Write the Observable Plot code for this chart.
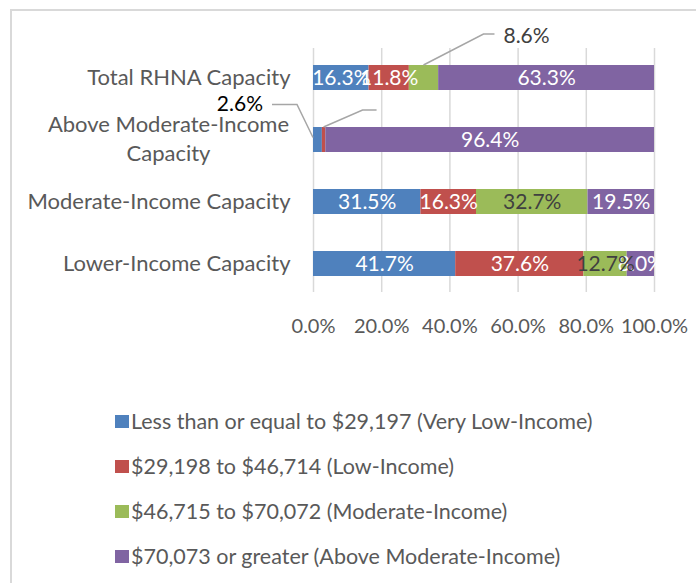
<!DOCTYPE html>
<html>
<head>
<meta charset="utf-8">
<script src="https://cdn.jsdelivr.net/npm/d3@7"></script>
<script src="https://cdn.jsdelivr.net/npm/@observablehq/plot@0.6"></script>
<style>
  html, body { margin: 0; padding: 0; background: white; }
  #wrap { position: relative; width: 696px; height: 583px; overflow: hidden; font-family: Lato, sans-serif; }
  #frame { position: absolute; left: 10px; top: 9px; width: 800px; height: 700px; border-left: 2px solid #d9d9d9; border-top: 2px solid #d9d9d9; }
  #chart { position: absolute; left: 0; top: 0; }
  .lg { position: absolute; left: 115px; display: flex; align-items: center; height: 24px; color: #595959; font-size: 21.5px; white-space: nowrap; }
  .lg .sw { width: 14px; height: 13px; margin-right: 2px; }
</style>
</head>
<body>
<div id="wrap">
  <div id="frame"></div>
  <div id="chart"></div>
  <div id="legend"></div>
</div>
<script>
const categories = ["Total RHNA Capacity", "Above Moderate-Income Capacity", "Moderate-Income Capacity", "Lower-Income Capacity"];
const series = [
  "Less than or equal to $29,197 (Very Low-Income)",
  "$29,198 to $46,714 (Low-Income)",
  "$46,715 to $70,072 (Moderate-Income)",
  "$70,073 or greater (Above Moderate-Income)"
];
const veryLow  = [16.3, 2.6, 31.5, 41.7];
const low      = [11.8, 1.0, 16.3, 37.6];
const moderate = [8.6, 0.0, 32.7, 12.7];
const aboveMod = [63.3, 96.4, 19.5, 8.0];
const xTicks = [0, 20, 40, 60, 80, 100];
const colors = ["#4f81bd", "#c0504d", "#9bbb59", "#8064a2"];

const seriesValues = [veryLow, low, moderate, aboveMod];
const rows = [];
categories.forEach((c, i) => {
  series.forEach((s, j) => rows.push({cat: c, series: s, si: j, value: seriesValues[j][i]}));
});

// labels drawn as callouts instead of inside the bar
const calloutKeys = new Set([categories[0] + "|2", categories[1] + "|0", categories[1] + "|1"]);
const inside = d => d.value > 0 && !calloutKeys.has(d.cat + "|" + d.si);
const fmt = v => v.toFixed(1) + "%";
const multiCat = categories[1];

const plot = Plot.plot({
  width: 696,
  height: 345,
  marginLeft: 313,
  marginRight: 42,
  marginTop: 48,
  marginBottom: 53,
  style: {fontFamily: "Lato, sans-serif", fontSize: "21px", color: "#595959", background: "transparent", overflow: "visible"},
  x: {domain: [0, 100]},
  y: {domain: categories, paddingInner: 0.597, paddingOuter: 0.266},
  color: {domain: series, range: colors},
  marks: [
    Plot.gridX(xTicks, {stroke: "#d9d9d9", strokeOpacity: 1, strokeWidth: 1.5}),
    Plot.barX(rows, Plot.stackX({x: "value", y: "cat", z: "series", fill: "series"})),
    Plot.text(rows, Plot.stackX({x: "value", y: "cat", z: "series",
      text: d => inside(d) && d.si !== 2 ? fmt(d.value) : "", fill: "white", fontSize: 21})),
    Plot.text(rows, Plot.stackX({x: "value", y: "cat", z: "series",
      text: d => inside(d) && d.si === 2 ? fmt(d.value) : "", fill: "#404040", fontSize: 21})),
    Plot.axisX(xTicks, {tickSize: 0, tickPadding: 26, tickFormat: d => d.toFixed(1) + "%", fontSize: 20, fill: "#595959", label: null}),
    Plot.axisY({tickSize: 0, tickPadding: 23, tickFormat: d => d === multiCat ? "" : d, fontSize: 22, fill: "#595959", label: null}),
    Plot.text([multiCat], {y: d => d, frameAnchor: "left", dx: -145, dy: -3, textAnchor: "middle",
      text: () => "Above Moderate-Income\nCapacity", lineHeight: 1.32, fill: "#595959", fontSize: 22})
  ]
});
document.getElementById("chart").appendChild(plot);

// Callout leader lines, anchored via the plot's scales
const xs = plot.scale("x"), ys = plot.scale("y");
const bw = ys.bandwidth;
const svg = d3.select(plot);
const g = svg.append("g").attr("fill", "none").attr("stroke", "#a6a6a6").attr("stroke-width", 1.5);

// 8.6% (Total RHNA, moderate)
{
  const start = veryLow[0] + low[0];
  const ax = xs.apply(start + moderate[0] / 2), ay = ys.apply(categories[0]);
  g.append("path").attr("d", `M${ax},${ay} L${ax + 60},${ay - 31} H${ax + 71}`);
  svg.append("text").attr("x", ax + 80).attr("y", ay - 29).attr("dy", "0.35em").attr("text-anchor", "start")
    .attr("fill", "#404040").attr("font-size", 21).attr("font-family", "Lato, sans-serif").text(fmt(moderate[0]));
}
// 2.6% (Above Moderate, very low)
{
  const ax = xs.apply(0), ay = ys.apply(categories[1]) + bw / 2 - 2;
  g.append("path").attr("d", `M${ax},${ay} L${ax - 16},${ay - 33} H${ax - 41}`);
  svg.append("text").attr("x", ax - 50).attr("y", ay - 34).attr("dy", "0.35em").attr("text-anchor", "end")
    .attr("fill", "#000").attr("font-size", 21).attr("font-family", "Lato, sans-serif").text(fmt(veryLow[1]));
}
// leader for Above Moderate, low (label empty)
{
  const ax = xs.apply(veryLow[1] + low[1] / 2), ay = ys.apply(categories[1]);
  g.append("path").attr("d", `M${ax},${ay} L${ax + 39},${ay - 17} H${ax + 53}`);
}

// Legend
const legendTops = [421, 466, 511, 556];
const lg = document.getElementById("legend");
series.forEach((s, i) => {
  const div = document.createElement("div");
  div.className = "lg";
  div.style.top = (legendTops[i] - 12) + "px";
  div.innerHTML = `<span class="sw" style="background:${colors[i]}"></span><span></span>`;
  div.lastChild.textContent = s;
  lg.appendChild(div);
});
</script>
</body>
</html>
